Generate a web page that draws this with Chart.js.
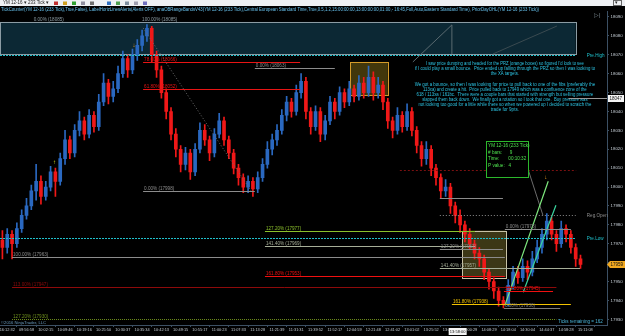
<!DOCTYPE html>
<html>
<head>
<meta charset="utf-8">
<script src="https://cdn.jsdelivr.net/npm/chart.js@4.4.1/dist/chart.umd.min.js"></script>
<style>
  html, body { margin: 0; padding: 0; background: #000; }
  #wrap { width: 625px; height: 336px; position: relative; }
</style>
</head>
<body>
<div id="wrap"><canvas id="ymChart"></canvas></div>
<script>
// YM 12-16 (233 Tick) bars
const opens = [17972,17968,17975,17970,17978,17985,17990,17998,18003,17995,18000,
  18008,18003,18015,18025,18018,18030,18035,18028,18038,18032,
  18045,18055,18048,18052,18060,18068,18062,18070,18075,18080,
  18084,18070,18062,18050,18040,18028,18020,18012,18018,18008,
  18020,18030,18025,18018,18028,18035,18025,18018,18010,18005,
  18000,18003,17999,18005,18012,18020,18025,18030,18038,18045,
  18040,18050,18056,18040,18032,18040,18028,18035,18045,18040,
  18050,18045,18052,18048,18055,18050,18058,18050,18054,18045,
  18035,18030,18038,18032,18040,18030,18022,18015,18020,18010,
  18005,17998,18000,17990,17985,17980,17975,17970,17965,17962,
  17955,17950,17945,17940,17938,17948,17955,17952,17958,17955,
  17962,17968,17975,17982,17975,17970,17978,17975,17968,17962];
const closes = [17968,17975,17970,17978,17985,17990,17998,18003,17995,18000,18008,
  18003,18015,18025,18018,18030,18035,18028,18038,18032,18045,
  18055,18048,18052,18060,18068,18062,18070,18075,18080,18084,
  18070,18062,18050,18040,18028,18020,18012,18018,18008,18020,
  18030,18025,18018,18028,18035,18025,18018,18010,18005,18000,
  18003,17999,18005,18012,18020,18025,18030,18038,18045,18040,
  18050,18056,18040,18032,18040,18028,18035,18045,18040,18050,
  18045,18052,18048,18055,18050,18058,18050,18054,18045,18035,
  18030,18038,18032,18040,18030,18022,18015,18020,18010,18005,
  17998,18000,17990,17985,17980,17975,17970,17965,17962,17955,
  17950,17945,17940,17938,17948,17955,17952,17958,17955,17962,
  17968,17975,17982,17975,17970,17978,17975,17968,17962,17959];
const highs = [17977,17978,17977,17981,17988,17994,18001,18012,18006,18003,18011,
  18010,18018,18030,18027,18033,18040,18037,18041,18040,18049,
  18060,18057,18056,18064,18072,18070,18073,18078,18083,18086,
  18085,18072,18064,18052,18042,18031,18022,18021,18020,18023,
  18034,18033,18027,18031,18039,18037,18027,18020,18012,18007,
  18006,18005,18008,18015,18024,18028,18033,18041,18048,18047,
  18054,18060,18058,18042,18043,18042,18038,18048,18047,18053,
  18052,18056,18054,18059,18058,18064,18061,18058,18056,18047,
  18037,18042,18040,18044,18042,18032,18024,18024,18022,18012,
  18007,18004,18002,17992,17988,17982,17978,17972,17968,17964,
  17957,17952,17947,17942,17951,17958,17958,17962,17961,17966,
  17972,17978,17986,17984,17977,17982,17980,17977,17970,17964];
const lows = [17962,17965,17962,17968,17976,17983,17988,17993,17991,17993,17998,
  17995,18001,18012,18015,18016,18027,18025,18026,18029,18030,
  18043,18044,18045,18050,18058,18058,18060,18067,18072,18077,
  18066,18058,18047,18036,18025,18016,18008,18009,18004,18006,
  18018,18022,18014,18016,18026,18022,18015,18007,18001,17997,
  17997,17995,17997,18003,18010,18017,18022,18028,18035,18037,
  18038,18047,18036,18028,18030,18024,18025,18033,18036,18038,
  18042,18043,18045,18046,18047,18048,18046,18047,18041,18031,
  18026,18028,18029,18030,18027,18018,18011,18012,18006,18001,
  17994,17995,17986,17981,17976,17971,17967,17962,17958,17951,
  17946,17941,17937,17936,17937,17946,17949,17950,17951,17953,
  17960,17965,17972,17972,17966,17968,17971,17965,17958,17957];

const timeLabels = ['16:12:32','09:56:58','10:02:15','10:09:46','10:19:16','10:25:50','10:30:37',
  '10:35:34','10:42:13','10:49:15','10:55:17','11:00:23','11:07:33','11:13:28','11:21:39',
  '11:31:31','11:39:52','11:52:17','12:04:59','12:21:48','12:41:02','13:01:02','13:25:52',
  '13:45:30','14:00:29','14:08:29','14:18:04','14:30:04','14:44:37','14:58:28','15:11:08'];

// fib levels drawn on the chart
const levelPrices = [18066, 18052, 17998, 18063, 17977, 17969, 17953, 17963, 17947, 17930,
  17938, 17945, 17936, 17978, 17994, 17967, 17957, 18009];
const levelLabels = ['78.60% (18066)', '61.80% (18052)', '0.00% (17998)', '0.00% (18063)',
  '127.20% (17977)', '141.40% (17969)', '161.80% (17953)', '100.00% (17963)', '113.00% (17947)',
  '127.20% (17930)', '161.80% (17938)', '161.80% (17945)', '0.00% (17936)', '0.00% (17978)',
  '', '127.20% (17967)', '141.40% (17957)', ''];
const levelFrom = [29.2, 29.2, 29.2, 52.4, 54.5, 54.5, 54.5, 2, 2, 2, 93.3, 104.1, 104.1, 104.3, 90.8, 90.8, 90.8, 82.5];
const levelTo = [61.8, 61.8, 52.4, 69, 98.1, 98.1, 104.3, 104.3, 115, 115, 118, 114.3, 115.8, 118, 103.9, 103.9, 119.9, 119.1];
const levelColors = ['#e81414', '#e81414', '#8c8c8c', '#8c8c8c', '#8cc02c', '#a6ae98', '#f01010', '#8c8c8c',
  '#8e0a0a', '#6e8e1c', '#f2c200', '#f01010', '#7c7c7c', '#8c8c8c', '#8c8c8c', '#8c8c8c', '#a6ae98', '#7a1010'];
const levelDash = [[], [], [], [], [], [], [], [], [], [1, 1], [], [], [], [], [], [], [], [2, 2]];

// prior day / session lines
const sessionNames = ['Pre.High', 'Reg.Open', 'Pre.Low'];
const sessionPrices = [18070, 17985, 17973];
const sessionFrom = [-0.5, 90.8, -0.5];
const sessionColors = ['#1fc0cc', '#8c8c8c', '#1fc0cc'];

const lastPrice = 17959;
const crossPrice = 18047;
const crossTime = '13:58:00';
const ticksRemaining = 162;

const noteLines = [
  "I saw price dumping and headed for the PRZ (orange boxes) so figured I'd look to see",
  "if I could play a small bounce.  Price ended up falling through the PRZ so then I was looking to",
  "the XA targets.",
  "",
  "We got a bounce, so then I was looking for price to pull back to one of the fibs (preferably the",
  "113xa) and create a hit.  Price pulled back to 17949 which was a confluence zone of the",
  "618 / 113xa / 161bc.  There were a couple bars that started with strength but selling pressure",
  "slapped them back down.  We finally got a rotation so I took that one.  Buy pressure was",
  "not looking too good for a little while there so when we powered up I decided to scratch the",
  "trade for 9pts."
];
const infoLines = ['YM 12-16 (233 Tick)', '# bars:      9', 'Time:       00:10:32', 'P value:   4'];
const header = 'TickCounter(YM 12-16 (233 Tick),True,False), LabelHorizLinesAlerts(Alerts OFF), anaOBRangeBandsV43(YM 12-16 (233 Tick),Central European Standard Time,True,0.5,1.2,15:00:00:00,13:00:00:00,01:00,- 16:45,Full,Auto,Eastern Standard Time), PriorDayOHL(YM 12-16 (233 Tick))';

const UP = '#2a68c0', DOWN = '#f01818';
const candleColors = closes.map((c, i) => c >= opens[i] ? UP : DOWN);
const bodies = opens.map((o, i) => [o, closes[i]]);
const wicks = lows.map((l, i) => [l, highs[i]]);

// one slot per bar plus a few empty ones on the right, time label every 4 slots
const slots = [];
for (let s = 0; s < 126; s++) slots.push((s - 1) % 4 === 0 ? timeLabels[(s - 1) / 4] : '');

const FONT = '"Liberation Sans", Arial, sans-serif';

const overlay = {
  id: 'overlay',
  beforeDraw(chart) {
    const c = chart.ctx;
    c.save();
    c.fillStyle = '#000';
    c.fillRect(0, 0, chart.width, chart.height);
    // toolbar
    c.fillStyle = '#eef0f3';
    c.fillRect(0, 0, chart.width, 6);
    c.fillStyle = '#222';
    c.font = '4.5px ' + FONT;
    c.textBaseline = 'middle';
    c.fillText('YM 12-16 \u25BE', 3, 3);
    c.fillText('233 Tick \u25BE', 28, 3);
    const icons = ['#c03030', '#d0a020', '#30a030', '#9090a0', '#707070', '#3070c0', '#50a050', '#8090a0', '#a0a0b0', '#7070c0'];
    icons.forEach((col, k) => { c.fillStyle = col; c.fillRect(54 + k * 9 + (k > 4 ? 8 : 0), 1.5, 4, 3.5); });
    c.strokeStyle = '#666';
    c.strokeRect(613.5, 0.5, 8, 5);
    c.fillStyle = '#222';
    c.fillText('\u25BE', 615, 3);
    c.restore();
  },
  beforeDatasetsDraw(chart) {
    const c = chart.ctx, x = chart.scales.x, y = chart.scales.y;
    const X = v => x.getPixelForValue(v), Y = v => y.getPixelForValue(v);
    const box = (s0, s1, p0, p1, fill, stroke) => {
      const l = X(s0), r = X(s1), t = Y(p0), b = Y(p1);
      c.fillStyle = fill; c.fillRect(l, t, r - l, b - t);
      c.strokeStyle = stroke; c.lineWidth = 1;
      c.strokeRect(Math.round(l) + 0.5, Math.round(t) + 0.5, Math.round(r - l), Math.round(b - t));
    };
    c.save();
    box(-0.5, 119, 18087.4, 18070.4, '#0c2834', '#8c9ca4');   // range band
    box(72.2, 80, 18066.2, 18048.7, 'rgba(120,100,20,0.55)', '#d49a28'); // PRZ
    box(95.4, 104.5, 17977, 17952.3, 'rgba(110,100,40,0.55)', '#c8c2a6');
    c.restore();
  },
  afterDatasetsDraw(chart) {
    const c = chart.ctx, x = chart.scales.x, y = chart.scales.y;
    const X = v => x.getPixelForValue(v), Y = v => y.getPixelForValue(v);
    c.save();
    c.font = '4.6px ' + FONT;
    c.textBaseline = 'alphabetic';
    c.lineWidth = 1;

    // connecting legs
    const leg = (s0, p0, s1, p1, col, dash, w) => {
      c.strokeStyle = col; c.setLineDash(dash); c.lineWidth = w;
      c.beginPath(); c.moveTo(X(s0), Y(p0)); c.lineTo(X(s1), Y(p1)); c.stroke();
    };
    leg(29.2, 18084.2, 51.8, 17997.3, '#6c6c6c', [1, 2], 1);
    leg(93.3, 18085.8, 85.2, 18066.2, '#5a6a70', [], 1);
    leg(93.3, 18085.8, 93.3, 18070.4, '#5a6a70', [], 1);
    leg(115.1, 18085.2, 101.8, 18070.4, '#3a4a50', [], 1);
    leg(108.5, 18014.2, 112.2, 17985.1, '#6c6c6c', [], 1);
    leg(104.3, 17937.4, 113.3, 18003.1, '#7ee87e', [], 1.2);
    leg(108.1, 17944.3, 114.9, 17990.4, '#3ad6a0', [], 1.2);

    // fib levels
    levelPrices.forEach((p, k) => {
      const yy = Math.round(Y(p)) + 0.5;
      c.strokeStyle = levelColors[k]; c.setLineDash(levelDash[k]); c.lineWidth = 1;
      c.beginPath(); c.moveTo(X(levelFrom[k]), yy); c.lineTo(X(levelTo[k]), yy); c.stroke();
      if (levelLabels[k]) {
        c.fillStyle = levelColors[k];
        c.fillText(levelLabels[k], X(levelFrom[k]) + 1, yy - 1.5);
      }
    });
    c.fillStyle = '#8c9ca4';
    c.fillText('0.00% (18085)', X(6.5), Y(18087.4) - 1);
    c.fillText('100.00% (18085)', X(29), Y(18087.4) - 1);

    // session lines
    sessionPrices.forEach((p, k) => {
      const yy = Math.round(Y(p)) + 0.5;
      c.strokeStyle = sessionColors[k]; c.setLineDash(k === 1 ? [1, 2] : [2, 1]);
      c.beginPath(); c.moveTo(X(sessionFrom[k]), yy); c.lineTo(X(119), yy); c.stroke();
      c.fillStyle = sessionColors[k];
      c.fillText(sessionNames[k], X(121.3), yy + 1.5);
    });
    c.setLineDash([]);

    // trade notes
    c.fillStyle = '#2cc4e4';
    c.font = '4.8px ' + FONT;
    c.textAlign = 'center';
    const nx = X(104.3);
    let ny = Y(18064.5);
    noteLines.forEach(t => {
      if (t) c.fillText(t, nx, ny, t.length * 1.88);
      ny += 5.1;
    });

    // bar counter box
    c.textAlign = 'left';
    const bl = X(100.4), bt = Y(18024.3), br = X(109.1), bb = Y(18005.2);
    c.fillStyle = '#000';
    c.fillRect(bl, bt, br - bl, bb - bt);
    c.strokeStyle = '#2cb82c';
    c.strokeRect(Math.round(bl) + 0.5, Math.round(bt) + 0.5, Math.round(br - bl), Math.round(bb - bt));
    c.fillStyle = '#4ee04e';
    c.font = '4.6px ' + FONT;
    infoLines.forEach((t, k) => c.fillText(t, bl + 2, bt + 6 + k * 6.6));

    // signal arrows
    c.fillStyle = '#f0a020';
    c.font = '6px ' + FONT;
    c.fillText('\u2193', X(27), Y(18074));
    c.fillText('\u2193', X(112.5), Y(18004));
    c.fillStyle = '#d8e020';
    c.fillText('\u2191', X(10.5), Y(18012));
    c.restore();
  },
  afterDraw(chart) {
    const c = chart.ctx, x = chart.scales.x, y = chart.scales.y, a = chart.chartArea;
    const X = v => x.getPixelForValue(v), Y = v => y.getPixelForValue(v);
    c.save();
    // header
    c.fillStyle = '#66c0ec';
    c.font = '4.8px ' + FONT;
    c.textBaseline = 'alphabetic';
    c.fillText(header, 1, 11, 538);
    c.fillStyle = '#7a8890';
    c.font = '6px ' + FONT;
    c.fillText('\u25B7|', 594, 17);

    // crosshair price
    const cy = Math.round(Y(crossPrice)) + 0.5;
    c.strokeStyle = '#9a9a9a';
    c.beginPath(); c.moveTo(X(117.5), cy); c.lineTo(a.right, cy); c.stroke();
    c.fillStyle = '#f4f4f4';
    c.fillRect(a.right + 1, cy - 3.5, 16, 7);
    c.fillStyle = '#111';
    c.font = '4.5px ' + FONT;
    c.textBaseline = 'middle';
    c.fillText(String(crossPrice), a.right + 2.5, cy);

    // last price
    const ly = Y(lastPrice);
    c.fillStyle = '#f0a820';
    c.beginPath();
    c.moveTo(a.right, ly); c.lineTo(a.right + 3, ly - 3.5); c.lineTo(a.right + 18, ly - 3.5);
    c.lineTo(a.right + 18, ly + 3.5); c.lineTo(a.right + 3, ly + 3.5); c.closePath(); c.fill();
    c.fillStyle = '#111';
    c.fillText(String(lastPrice), a.right + 3.5, ly);

    // crosshair time
    const tx = X(94.5);
    c.fillStyle = '#f4f4f4';
    c.fillRect(tx - 9, a.bottom + 3, 18, 7);
    c.fillStyle = '#111';
    c.font = '4px ' + FONT;
    c.textAlign = 'center';
    c.fillText(crossTime, tx, a.bottom + 6.5);

    c.textAlign = 'left';
    c.textBaseline = 'alphabetic';
    c.fillStyle = '#4ab4d8';
    c.font = '4.6px ' + FONT;
    c.fillText('Ticks remaining = ' + ticksRemaining, 558, 323);
    c.fillStyle = '#6a9cc0';
    c.font = '4.2px ' + FONT;
    c.fillText('\u00A92016 NinjaTrader, LLC', 1, 323.5);
    c.restore();
  }
};

const ctx = document.getElementById('ymChart').getContext('2d');
new Chart(ctx, {
  type: 'bar',
  data: {
    labels: slots,
    datasets: [
      { label: 'Body', data: bodies, backgroundColor: candleColors, barThickness: 3, minBarLength: 1, order: 0 },
      { label: 'Wick', data: wicks, backgroundColor: candleColors, barThickness: 1, order: 1 }
    ]
  },
  options: {
    responsive: true,
    maintainAspectRatio: false,
    animation: false,
    layout: { padding: { top: 11.3, left: 0, right: 0, bottom: 0 } },
    datasets: { bar: { grouped: false } },
    plugins: { legend: { display: false }, tooltip: { enabled: false } },
    scales: {
      x: {
        offset: true,
        grid: { drawOnChartArea: false, drawTicks: true, tickLength: 2, color: '#3c5064' },
        border: { color: '#3c5064' },
        ticks: {
          autoSkip: false, maxRotation: 0, minRotation: 0, padding: 1,
          color: '#c4ccd4', font: { size: 3.9, family: FONT },
          callback: (v, i) => slots[i] || null
        },
        afterFit: s => { s.height = 11; s.paddingLeft = 0; s.paddingRight = 0; }
      },
      y: {
        position: 'right',
        min: 17927,
        max: 18093,
        grid: { drawOnChartArea: false, drawTicks: true, tickLength: 2, color: '#3c5064' },
        border: { color: '#3c5064' },
        ticks: {
          stepSize: 10, includeBounds: false, padding: 1.5, color: '#c4ccd4',
          font: { size: 4.4, family: FONT },
          callback: v => String(v)
        },
        afterFit: s => { s.width = 18; s.paddingTop = 0; s.paddingBottom = 0; }
      }
    }
  },
  plugins: [overlay]
});
</script>
</body>
</html>
